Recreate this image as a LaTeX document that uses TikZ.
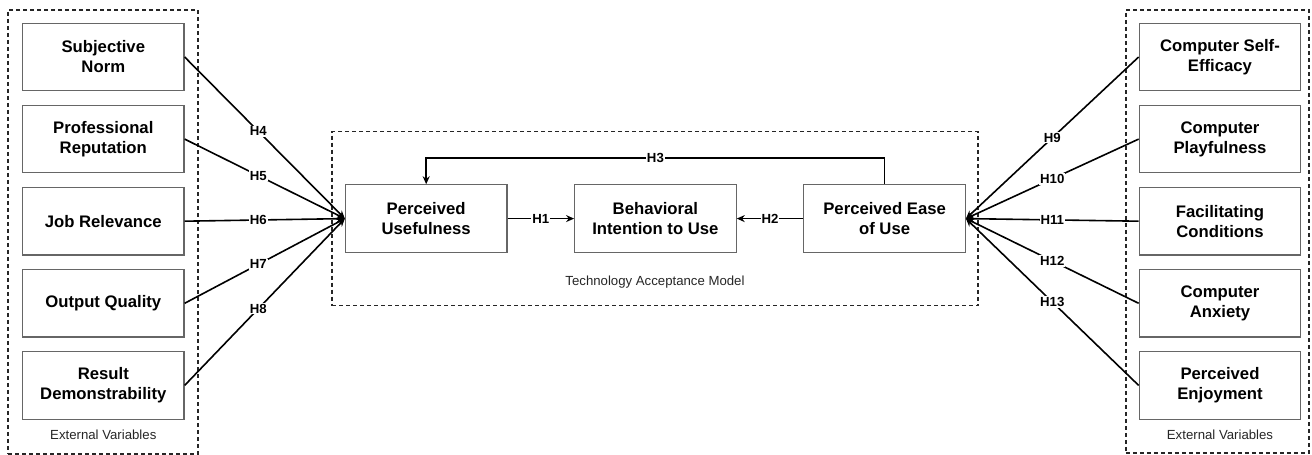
\documentclass[tikz,border=0pt]{standalone}
\usepackage{fontspec}
\setmainfont{Liberation Sans}
\usetikzlibrary{arrows.meta, positioning}

\begin{document}
\begin{tikzpicture}[x=1pt, y=1pt,
      varbox/.style={
         rectangle,
         draw=black!60,
         line width=1.2pt,
         fill=white,
         align=center,
         inner sep=2pt,
         minimum width=161.5pt,
         minimum height=67.5pt,
         font=\fontsize{16.7}{20}\selectfont\bfseries},
      groupbox/.style={
         rectangle,
         draw=black!85,
         line width=1.4pt,
         dash pattern=on 4pt off 3pt,
         inner sep=0pt},
      grouplabel/.style={font=\fontsize{13.2}{15}\selectfont, text=black!85},
      hlabel/.style={fill=white, inner sep=1pt, font=\fontsize{13.2}{15}\selectfont\bfseries},
      myarrow/.style={-{Stealth[length=8pt,width=7pt]}, line width=1.6pt},
      node distance=13.4pt and 66.5pt
      ]
      \useasboundingbox (0,0) rectangle (1312,455);

      % dashed groups
      \node[groupbox, minimum width=190pt, minimum height=444pt] (extl) at (103,223) {};
      \node[groupbox, minimum width=646pt, minimum height=174pt] (tam) at (655,236.4) {};
      \node[groupbox, minimum width=183pt, minimum height=443pt] (extr) at (1217.4,223.5) {};
      \node[grouplabel] (extllab) at (103.3,20) {External Variables};
      \node[grouplabel] (extrlab) at (1220,20) {External Variables};
      \node[grouplabel] (tamlab) at (655,173) {Technology Acceptance Model};

      % technology acceptance model
      \node[varbox] (pu) at (426.2,236.4) {Perceived\\Usefulness};
      \node[varbox, right=of pu] (bi) {Behavioral\\Intention to Use};
      \node[varbox, right=of bi] (pe) {Perceived Ease\\of Use};

      % external variables, left
      \node[varbox] (sn) at (103.3,398) {Subjective\\Norm};
      \node[varbox, below=of sn] (pr) {Professional\\Reputation};
      \node[varbox, below=of pr] (jr) {Job Relevance};
      \node[varbox, below=of jr] (oq) {Output Quality};
      \node[varbox, below=of oq] (rd) {Result\\Demonstrability};

      % external variables, right
      \node[varbox] (cse) at (1220,398) {Computer Self-\\Efficacy};
      \node[varbox, below=of cse] (cp) {Computer\\Playfulness};
      \node[varbox, below=of cp] (fc) {Facilitating\\Conditions};
      \node[varbox, below=of fc] (ca) {Computer\\Anxiety};
      \node[varbox, below=of ca] (pen) {Perceived\\Enjoyment};

      \draw [myarrow] (pu) -- node[hlabel] {H1} (bi);
      \draw [myarrow] (pe) -- node[hlabel] {H2} (bi);
      \draw [myarrow] (pe.north) -- ++(0,26) -| node[hlabel, pos=0.25] {H3} (pu.north);

    \foreach \i/\txt in {% start node/text
      sn/H4, pr/H5, jr/H6, oq/H7, rd/H8}
       \draw [myarrow] (\i.east) -- node[hlabel, pos=0.46] {\txt} (pu.west);

    \foreach \i/\txt in {% start node/text
      cse/H9, cp/H10, fc/H11, ca/H12, pen/H13}
       \draw [myarrow] (\i.west) -- node[hlabel] {\txt} (pe.east);
    \end{tikzpicture}
\end{document}
